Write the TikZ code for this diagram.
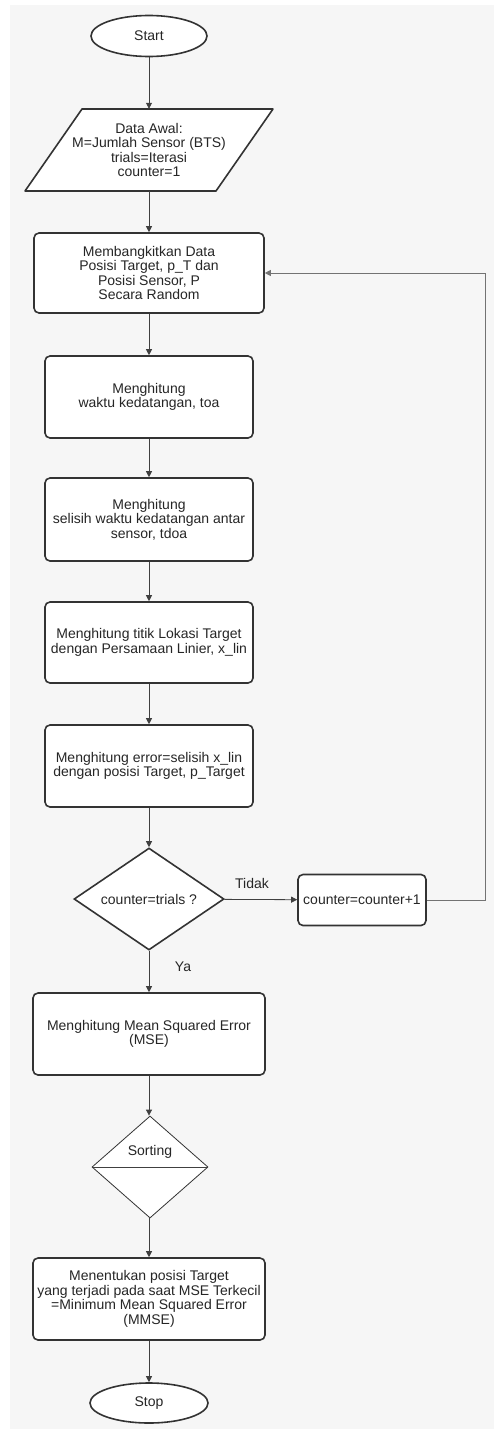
\documentclass[tikz,border=0pt]{standalone}
\usepackage{fontspec}
\setmainfont{Liberation Sans}
\usetikzlibrary{shapes.geometric,arrows.meta}

\begin{document}
\begin{tikzpicture}[x=1pt,y=-1pt,
    txt/.style={font=\fontsize{14}{14.6}\selectfont,text=black!85},
    procbox/.style={txt,draw=black!80,line width=1.6pt,fill=white,rounded corners=5pt,align=center,inner sep=0pt},
    termnode/.style={txt,ellipse,draw=black!80,line width=1.6pt,fill=white,inner sep=0pt},
    decide/.style={txt,diamond,draw=black!80,line width=1.6pt,fill=white,inner sep=0pt,shape aspect=1.47},
    flowline/.style={draw=black!75,line width=0.8pt,-{Triangle[length=6pt,width=6pt]}},
    loopline/.style={draw=black!55,line width=1pt,-{Triangle[length=6pt,width=6pt]}}]
    		\newcommand{\colx}{149}
    		\newcommand{\slant}{28.5}

    		% page
    		\fill[white] (0,0) rectangle (494,1429);
    		\fill[black!3.5] (10,5) rectangle (494,1429);
    		\useasboundingbox (0,0) rectangle (494,1429);

    		% terminals
    		\node (start) [termnode, minimum width=116pt, minimum height=41pt] at (\colx,36) {Start};
    		\node (stop) [termnode, minimum width=118pt, minimum height=40pt] at (\colx,1403) {Stop};

    		% input
    		\filldraw[draw=black!80,fill=white,line width=1.6pt,line join=round]
    		    (\colx-95.5+\slant,109) -- (\colx+95.5+\slant,109) -- (\colx+95.5-\slant,191) -- (\colx-95.5-\slant,191) -- cycle;
    		\node (datain) [txt, align=center, inner sep=0pt, minimum width=191pt, minimum height=82pt] at (\colx,150)
    		    {Data Awal:\\M=Jumlah Sensor (BTS)\\trials=Iterasi\\counter=1};

    		% process boxes
    		\node (genbox) [procbox, minimum width=230pt, minimum height=80pt] at (\colx,273)
    		    {Membangkitkan Data\\Posisi Target, p\_T dan\\Posisi Sensor, P\\Secara Random};
    		\node (toabox) [procbox, minimum width=208pt, minimum height=82pt] at (\colx,397)
    		    {Menghitung\\waktu kedatangan, toa};
    		\node (tdoabox) [procbox, minimum width=208pt, minimum height=83pt] at (\colx,519.5)
    		    {Menghitung\\selisih waktu kedatangan antar\\sensor, tdoa};
    		\node (linbox) [procbox, minimum width=208pt, minimum height=81pt] at (\colx,642.5)
    		    {Menghitung titik Lokasi Target\\dengan Persamaan Linier, x\_lin};
    		\node (errbox) [procbox, minimum width=208pt, minimum height=82pt] at (\colx,766)
    		    {Menghitung error=selisih x\_lin\\dengan posisi Target, p\_Target};
    		\node (check) [decide, minimum width=150pt, minimum height=102pt] at (\colx,899) {counter=trials ?};
    		\node (incr) [procbox, minimum width=128pt, minimum height=51pt] at (362,900) {counter=counter+1};
    		\node (msebox) [procbox, minimum width=232pt, minimum height=82pt] at (\colx,1034)
    		    {Menghitung Mean Squared Error\\(MSE)};
    		\node (sortnode) [decide, line width=0.8pt, minimum width=116pt, minimum height=102pt] at (\colx+1,1167) {};
    		\draw[draw=black!75,line width=0.8pt] (sortnode.west) -- (sortnode.east);
    		\node (sortlbl) [txt] at (\colx+1,1152) {Sorting};
    		\node (mmsebox) [procbox, minimum width=232pt, minimum height=82pt] at (\colx,1299)
    		    {Menentukan posisi Target\\yang terjadi pada saat MSE Terkecil\\=Minimum Mean Squared Error\\(MMSE)};

    		% labels
    		\node (tidaklbl) [txt] at (252,883) {Tidak};
    		\node (yalbl) [txt] at (183,967) {Ya};

    		% arrows
    		\draw[flowline] (start) -- (datain);
    		\draw[flowline] (datain) -- (genbox);
    		\draw[flowline] (genbox) -- (toabox);
    		\draw[flowline] (toabox) -- (tdoabox);
    		\draw[flowline] (tdoabox) -- (linbox);
    		\draw[flowline] (linbox) -- (errbox);
    		\draw[flowline] (errbox) -- (check);
    		\draw[flowline] (check) -- (incr);
    		\draw[flowline] (check) -- (msebox);
    		\draw[flowline] (msebox.south) -- (msebox.south |- sortnode.north);
    		\draw[flowline] (msebox.south |- sortnode.south) -- (mmsebox.north);
    		\draw[flowline] (mmsebox) -- (stop);

    		% loop back
    		\coordinate (loopcorner) at (485,273);
    		\draw[loopline] (incr.east) -| (loopcorner) -- (genbox.east);

\end{tikzpicture}
\end{document}
